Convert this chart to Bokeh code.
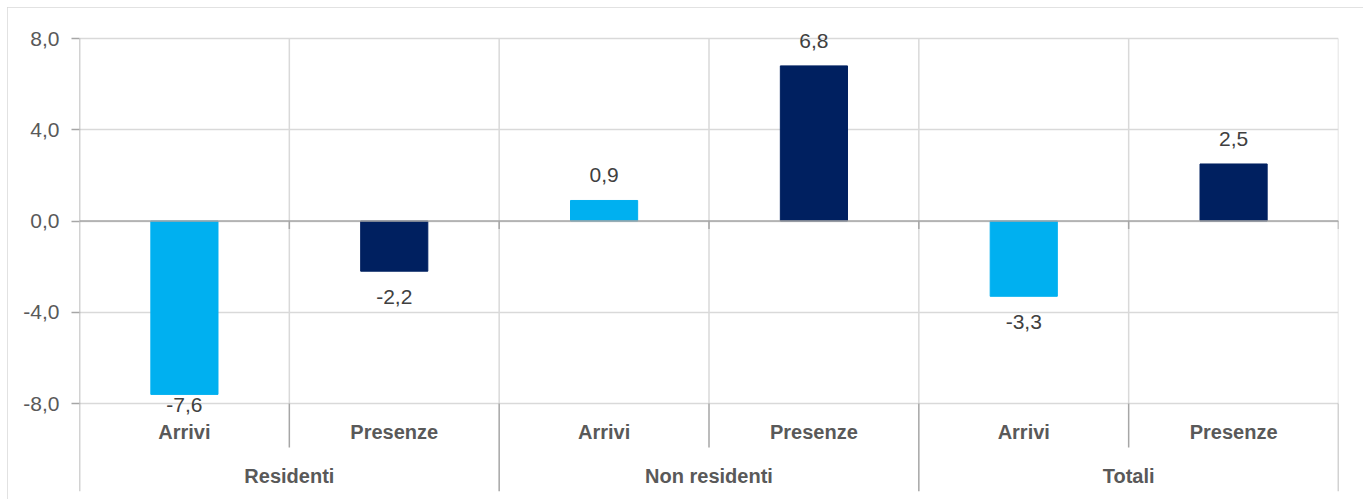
from bokeh.plotting import figure
from bokeh.models import (FactorRange, Range1d, ColumnDataSource, FixedTicker,
                          CustomJSTickFormatter, Span)
from bokeh.core.properties import value
from bokeh.embed import file_html
from bokeh.resources import INLINE

# ---- data ----
groups = ["Residenti", "Non residenti", "Totali"]
measures = ["Arrivi", "Presenze"]
values = [-7.6, -2.2, 0.9, 6.8, -3.3, 2.5]
y_ticks = [-8, -4, 0, 4, 8]
measure_colors = {"Arrivi": "#00B0F0", "Presenze": "#002060"}

FONT = "'Liberation Sans', Arial, sans-serif"
TXT = "#595959"
VAL_TXT = "#404040"
GRID = "#D9D9D9"
AXIS = "#A6A6A6"

factors = [(g, m) for g in groups for m in measures]

ppu = 365 / 16              # pixels per unit
TOP_PAD_PX = 23             # room above the top tick for value labels
FRAME_H = 476
Y_TOP = y_ticks[-1] + TOP_PAD_PX / ppu
Y_MIN = Y_TOP - FRAME_H / ppu

p = figure(width=1356, height=492,
           x_range=FactorRange(*factors, group_padding=0, factor_padding=0,
                               subgroup_padding=0, range_padding=0),
           y_range=Range1d(Y_MIN, Y_TOP),
           x_axis_location=None, toolbar_location=None,
           output_backend="svg",
           min_border_left=72, min_border_right=25,
           min_border_top=8, min_border_bottom=8,
           styles={"margin-left": "7px", "margin-top": "7px",
                   "outline": "2px solid #D9D9D9", "outline-offset": "-2px"})
p.outline_line_color = None
p.background_fill_color = "white"
p.border_fill_color = "white"
p.xgrid.visible = False

# y axis (line drawn separately so it stops at the top tick)
yax = p.yaxis[0]
yax.ticker = FixedTicker(ticks=y_ticks)
yax.formatter = CustomJSTickFormatter(code="return tick.toFixed(1).replace('.', ',')")
yax.axis_line_color = None
yax.major_tick_line_color = AXIS
yax.major_tick_line_width = 1.5
yax.major_tick_out = 8
yax.major_tick_in = 0
yax.minor_tick_line_color = None
yax.major_label_text_font = FONT
yax.major_label_text_font_size = "21px"
yax.major_label_text_color = TXT
yax.major_label_standoff = 12
p.ygrid.grid_line_color = GRID
p.ygrid.grid_line_width = 1.5

left_edge = [(groups[0], measures[0], -0.5)]
p.segment(x0=left_edge, x1=left_edge, y0=[Y_MIN], y1=[y_ticks[-1]],
          line_color=AXIS, line_width=1.5)

# vertical grid lines inside the plot
edges = [(g, m, 0.5) for g in groups for m in measures]
p.segment(x0=edges, x1=edges, y0=[y_ticks[0]] * len(edges), y1=[y_ticks[-1]] * len(edges),
          line_color=GRID, line_width=1.5)

# zero line with its ticks
p.add_layout(Span(location=0, dimension="width", line_color=AXIS, line_width=1.5))
tick_len = 8 / ppu
p.segment(x0=edges, x1=edges, y0=[0] * len(edges), y1=[-tick_len] * len(edges),
          line_color=AXIS, line_width=1.5)

# bars
src = ColumnDataSource(dict(
    x=factors, top=values,
    color=[measure_colors[m] for g, m in factors],
    label=[f"{v:.1f}".replace(".", ",") for v in values],
    ly=[v + 25 / ppu if v >= 0 else max(v - 26 / ppu, y_ticks[0] - 1 / ppu) for v in values],
))
p.vbar(x="x", top="top", bottom=0, width=0.32, color="color", source=src)
p.text(x="x", y="ly", text="label", source=src, text_align="center",
       text_baseline="middle", text_font=value(FONT), text_font_size="21px",
       text_color=VAL_TXT)

# category axis area (below -8)
sub_sep = [(g, "Arrivi", 0.5) for g in groups]
grp_sep = [(g, "Presenze", 0.5) for g in groups]
sub_bottom = y_ticks[0] - 44 / ppu
p.segment(x0=sub_sep, x1=sub_sep, y0=[y_ticks[0]] * 3, y1=[sub_bottom] * 3,
          line_color=AXIS, line_width=1.5)
p.segment(x0=grp_sep, x1=grp_sep, y0=[y_ticks[0]] * 3, y1=[Y_MIN] * 3,
          line_color=AXIS, line_width=1.5)

p.text(x=factors, y=[y_ticks[0] - 28 / ppu] * len(factors), text=[m for g, m in factors],
       text_align="center", text_baseline="middle", text_font=value(FONT),
       text_font_size="20px", text_font_style="bold", text_color=TXT)
p.text(x=sub_sep, y=[y_ticks[0] - 72 / ppu] * 3, text=groups,
       text_align="center", text_baseline="middle", text_font=value(FONT),
       text_font_size="20px", text_font_style="bold", text_color=TXT)

open("out.html", "w").write(file_html(p, INLINE))
